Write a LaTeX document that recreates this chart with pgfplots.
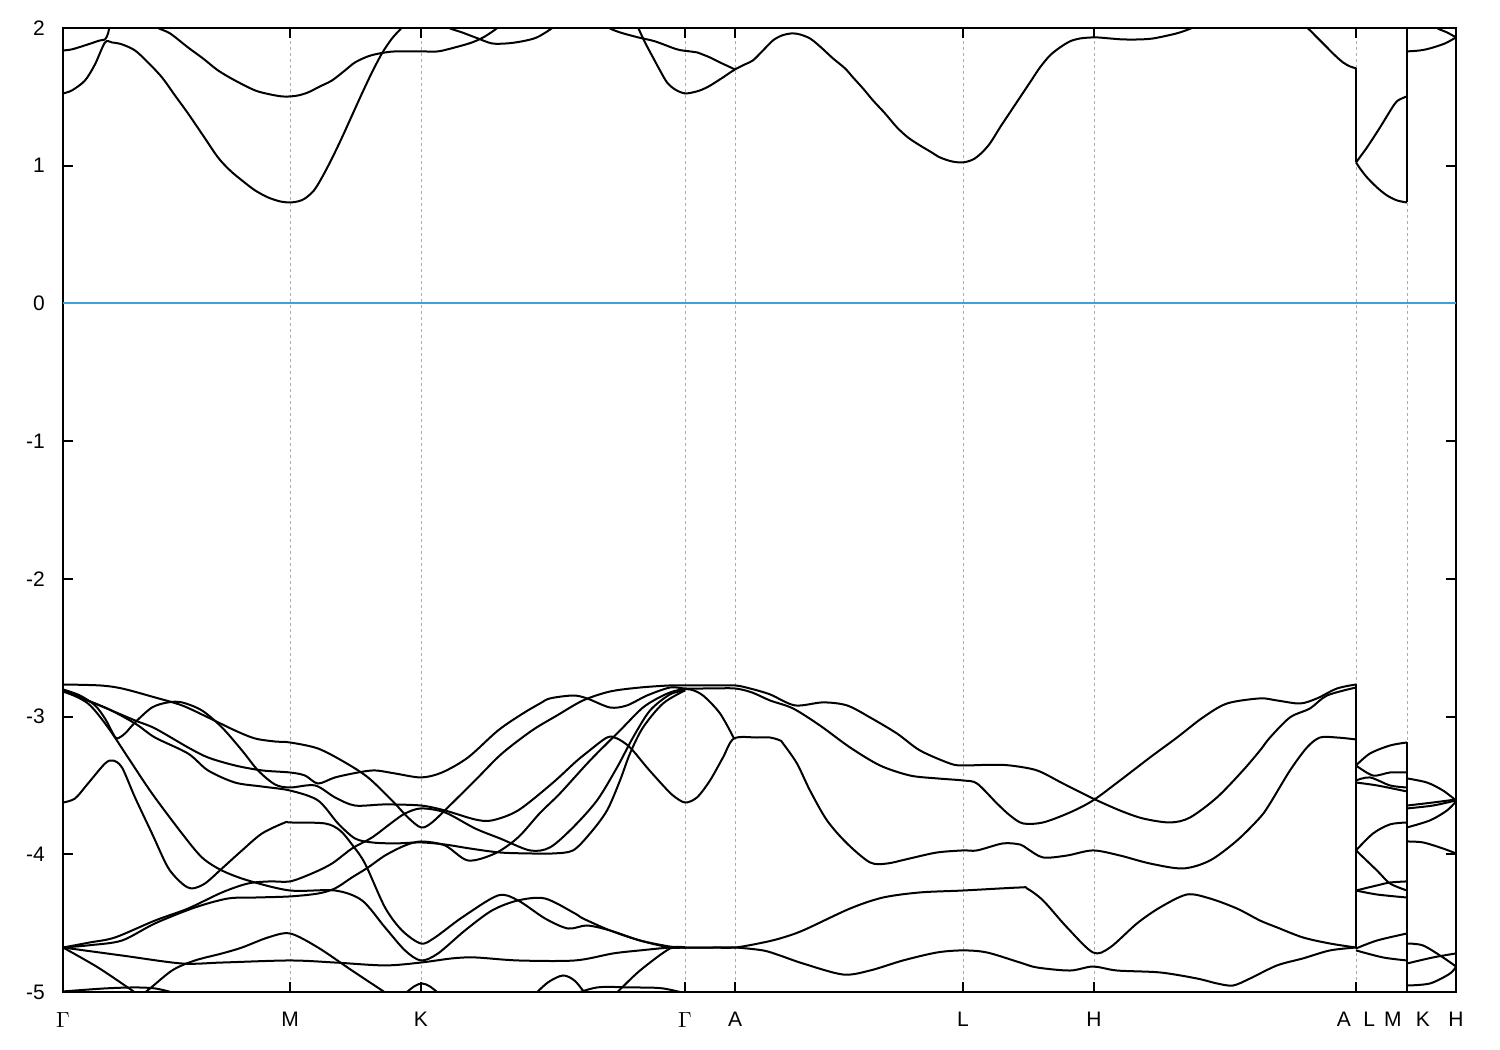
\documentclass[border=0pt]{standalone}
\usepackage{fontspec}
\setmainfont{Liberation Sans}
\usepackage{pgfplots}
\pgfplotsset{compat=1.18}
\definecolor{fermi}{RGB}{60,160,220}
\pgfplotsset{band/.style={black, line width=1pt, smooth, tension=0.5, mark=none},
             jump/.style={black, line width=1pt, mark=none}}
\begin{document}
\begin{tikzpicture}
\begin{axis}[
  scale only axis, width=696.5pt, height=482pt,
  xmin=63, xmax=1456, ymin=-5, ymax=2,
  axis line style={line width=1pt},
  xtick={63,290,421,685,735,963,1094,1356,1407,1456},
  xticklabels={$\Gamma$,M,K,$\Gamma$,A,L,H,{A\hspace{6.2pt}L},{M\hspace{7.2pt}K},H},
  ytick={-5,-4,-3,-2,-1,0,1,2},
  yticklabels={-5,-4,-3,-2,-1,0,1,2},
  tick align=inside, major tick length=5pt,
  every tick/.style={black, line width=1pt},
  tick label style={font=\fontsize{10.5}{12}\selectfont},
  xticklabel style={yshift=-6.5pt},
  yticklabel style={xshift=-5.6pt},
  xmajorgrids, ymajorgrids=false,
  major x grid style={gray!65, line width=0.5pt, dash pattern=on 1.5pt off 1.5pt},
  clip=true,
]
\addplot[draw=fermi, line width=1pt, mark=none] coordinates {(63,0) (1456,0)};
% ---------------- conduction bands ----------------
\addplot[band] coordinates {(63,1.525) (72,1.547) (85,1.619) (95,1.736) (105,1.895) (112,1.895) (122,1.881) (135,1.837) (148,1.750) (162,1.641) (175,1.510) (188,1.380) (203,1.220) (218,1.060) (230,0.966) (242,0.893) (255,0.821) (268,0.770) (280,0.741) (290,0.733) (298,0.741) (305,0.762) (314,0.821) (322,0.915) (332,1.053) (342,1.205) (352,1.365) (362,1.525) (372,1.678) (382,1.816) (392,1.924) (402,2.004) (408,2.06)};
\addplot[band] coordinates {(63,1.837) (72,1.845) (88,1.881) (100,1.910) (105,1.917) (108,1.96) (111,2.06)};
\addplot[band] coordinates {(150,2.06) (157,2.004) (170,1.961) (188,1.859) (203,1.779) (218,1.692) (235,1.619) (255,1.547) (270,1.518) (282,1.503) (290,1.503) (298,1.510) (308,1.532) (320,1.576) (332,1.619) (345,1.692) (355,1.750) (368,1.794) (380,1.816) (395,1.830) (422,1.830) (438,1.830) (455,1.859) (472,1.895) (485,1.939) (498,2.004) (504,2.05)};
\addplot[band] coordinates {(440,2.06) (448,2.004) (462,1.968) (478,1.924) (492,1.888) (507,1.888) (522,1.903) (537,1.932) (553,2.004) (558,2.05)};
\addplot[band] coordinates {(598,2.06) (608,2.004) (620,1.968) (638,1.932) (655,1.903) (677,1.845) (690,1.830) (697,1.823) (710,1.786) (720,1.750) (735,1.699)};
\addplot[band] coordinates {(634,2.06) (638,2.004) (645,1.895) (653,1.786) (660,1.692) (667,1.605) (675,1.554) (685,1.525) (697,1.540) (707,1.569) (720,1.627) (735,1.699) (745,1.736) (753,1.765) (763,1.837) (773,1.910) (782,1.946) (792,1.961) (800,1.953) (810,1.924) (820,1.866) (833,1.779) (845,1.707) (853,1.641) (863,1.561) (873,1.474) (885,1.380) (897,1.278) (908,1.205) (920,1.147) (930,1.104) (940,1.060) (952,1.031) (963,1.024) (973,1.045) (981,1.089) (990,1.162) (1000,1.278) (1010,1.387) (1020,1.496) (1030,1.605) (1040,1.714) (1050,1.801) (1060,1.859) (1070,1.903) (1080,1.924) (1095,1.932) (1110,1.924) (1123,1.917) (1140,1.917) (1153,1.924) (1168,1.946) (1180,1.968) (1193,2.004) (1202,2.05)};
\addplot[band] coordinates {(1298,2.06) (1307,2.004) (1317,1.932) (1327,1.859) (1335,1.801) (1343,1.750) (1350,1.721) (1356,1.707)};
\addplot[jump] coordinates {(1356,1.707) (1356,1.024)};
\addplot[band] coordinates {(1356,1.024) (1367,1.133) (1380,1.278) (1395,1.452) (1402,1.489) (1407,1.503)};
\addplot[band] coordinates {(1356,1.024) (1360,0.980) (1367,0.915) (1377,0.842) (1387,0.784) (1397,0.748) (1407,0.733)};
\addplot[jump] coordinates {(1407,2.06) (1407,0.733)};
\addplot[band] coordinates {(1407,1.830) (1420,1.837) (1430,1.852) (1445,1.888) (1456,1.932)};
\addplot[band] coordinates {(1428,2.06) (1437,2.00) (1447,1.968) (1456,1.932)};
% ---------------- valence bands ----------------
% band A
\addplot[band] coordinates {(63,-2.767) (100,-2.774) (122,-2.796) (155,-2.861) (182,-2.919) (208,-3.006) (235,-3.101) (255,-3.159) (275,-3.181) (290,-3.188) (318,-3.232) (345,-3.333) (368,-3.442) (392,-3.609) (408,-3.733) (421,-3.805) (432,-3.769) (452,-3.630) (478,-3.442) (502,-3.268) (532,-3.101) (557,-2.992) (583,-2.883) (610,-2.818) (640,-2.789) (670,-2.774) (685,-2.774) (710,-2.774) (735,-2.774) (750,-2.796) (770,-2.839) (795,-2.919) (823,-2.897) (847,-2.919) (870,-3.006) (897,-3.123) (920,-3.246) (950,-3.341) (963,-3.355) (990,-3.350) (1010,-3.355) (1037,-3.391) (1063,-3.486) (1093,-3.595) (1120,-3.682) (1143,-3.740) (1170,-3.769) (1190,-3.733) (1217,-3.587) (1243,-3.391) (1260,-3.246) (1270,-3.152) (1290,-3.006) (1310,-2.941) (1327,-2.847) (1356,-2.789)};
% band B
\addplot[band] coordinates {(63,-2.810) (95,-2.905) (135,-3.028) (155,-3.086) (188,-3.224) (208,-3.297) (235,-3.355) (262,-3.391) (290,-3.406) (305,-3.428) (318,-3.486) (335,-3.442) (358,-3.406) (375,-3.391) (395,-3.413) (421,-3.442) (442,-3.406) (468,-3.297) (498,-3.101) (523,-2.977) (540,-2.905) (550,-2.868) (573,-2.847) (587,-2.868) (610,-2.934) (627,-2.919) (647,-2.847) (670,-2.789) (685,-2.796) (710,-2.796) (735,-2.796) (752,-2.825) (770,-2.883) (793,-2.941) (820,-3.065) (850,-3.224) (880,-3.355) (910,-3.428) (937,-3.449) (963,-3.464) (977,-3.486) (997,-3.631) (1010,-3.718) (1023,-3.776) (1043,-3.769) (1070,-3.696) (1093,-3.609) (1120,-3.464) (1150,-3.297) (1177,-3.152) (1203,-3.006) (1227,-2.905) (1260,-2.868) (1277,-2.883) (1300,-2.905) (1317,-2.868) (1337,-2.796) (1356,-2.767)};
% band C
\addplot[band] coordinates {(63,-2.803) (80,-2.847) (95,-2.919) (105,-3.014) (113,-3.123) (117,-3.159) (125,-3.123) (135,-3.043) (152,-2.934) (168,-2.897) (182,-2.897) (202,-2.956) (222,-3.079) (242,-3.246) (258,-3.391) (275,-3.493) (290,-3.515) (315,-3.500) (335,-3.587) (355,-3.646) (385,-3.638) (421,-3.646) (445,-3.682) (475,-3.747) (492,-3.754) (518,-3.682) (552,-3.486) (575,-3.333) (587,-3.261) (607,-3.152) (617,-3.159) (630,-3.224) (647,-3.370) (663,-3.500) (673,-3.573) (685,-3.624) (697,-3.587) (710,-3.464) (723,-3.297) (734,-3.159) (757,-3.152) (770,-3.152) (780,-3.173) (783,-3.195) (797,-3.341) (810,-3.537) (827,-3.754) (847,-3.921) (870,-4.059) (887,-4.067) (910,-4.030) (937,-3.987) (963,-3.972) (977,-3.972) (1003,-3.921) (1020,-3.929) (1027,-3.958) (1043,-4.023) (1067,-4.009) (1093,-3.972) (1120,-4.009) (1150,-4.067) (1183,-4.103) (1210,-4.045) (1237,-3.900) (1260,-3.733) (1270,-3.631) (1290,-3.391) (1307,-3.224) (1320,-3.152) (1337,-3.152) (1356,-3.166)};
% band D
\addplot[band] coordinates {(63,-2.818) (105,-2.934) (135,-3.050) (155,-3.152) (188,-3.268) (208,-3.391) (235,-3.479) (262,-3.508) (290,-3.537) (318,-3.609) (338,-3.776) (355,-3.885) (372,-3.914) (395,-3.921) (421,-3.914) (445,-3.929) (470,-3.958) (500,-3.987) (530,-3.994) (553,-3.994) (573,-3.972) (590,-3.849) (607,-3.682) (620,-3.464) (630,-3.268) (643,-3.079) (663,-2.905) (685,-2.810)};
% band F
\addplot[band] coordinates {(63,-4.677) (90,-4.640) (115,-4.604) (155,-4.481) (188,-4.394) (222,-4.277) (248,-4.212) (270,-4.197) (290,-4.197) (312,-4.139) (332,-4.067) (352,-3.958) (372,-3.878) (392,-3.769) (405,-3.704) (421,-3.667) (445,-3.696) (475,-3.812) (500,-3.885) (530,-3.972) (550,-3.950) (573,-3.805) (597,-3.609) (617,-3.370) (633,-3.152) (650,-2.956) (670,-2.839) (685,-2.810)};
% band H
\addplot[band] coordinates {(63,-4.677) (90,-4.660) (122,-4.626) (155,-4.502) (195,-4.386) (228,-4.321) (255,-4.314) (290,-4.306) (318,-4.285) (335,-4.248) (352,-4.168) (368,-4.096) (385,-4.009) (405,-3.936) (421,-3.907) (445,-3.936) (468,-4.045) (495,-3.994) (518,-3.878) (540,-3.700) (560,-3.558) (590,-3.319) (620,-3.101) (643,-2.934) (663,-2.847) (677,-2.810) (690,-2.803) (703,-2.847) (720,-2.977) (734,-3.159)};
% band P / E
\addplot[band] coordinates {(63,-3.624) (75,-3.595) (88,-3.486) (105,-3.341) (113,-3.319) (122,-3.370) (135,-3.587) (152,-3.849) (168,-4.096) (182,-4.212) (192,-4.248) (205,-4.212) (222,-4.103) (242,-3.972) (262,-3.849) (285,-3.769) (290,-3.769) (325,-3.776) (340,-3.827) (352,-3.929) (365,-4.067) (385,-4.386) (402,-4.553) (421,-4.648) (435,-4.604) (462,-4.459) (498,-4.299) (518,-4.335) (545,-4.466) (568,-4.539) (587,-4.517) (610,-4.553) (640,-4.626) (670,-4.677) (685,-4.677) (710,-4.677) (735,-4.677) (763,-4.641) (780,-4.611) (803,-4.553) (850,-4.394) (883,-4.314) (920,-4.277) (963,-4.263) (1020,-4.241) (1027,-4.248) (1043,-4.335) (1067,-4.531) (1093,-4.713) (1110,-4.677) (1137,-4.502) (1160,-4.386) (1187,-4.292) (1210,-4.321) (1237,-4.394) (1260,-4.481) (1277,-4.531) (1303,-4.604) (1330,-4.648) (1356,-4.677)};
% band Q / G
\addplot[band] coordinates {(63,-2.810) (88,-2.905) (108,-3.079) (128,-3.297) (152,-3.558) (182,-3.849) (202,-4.023) (222,-4.118) (248,-4.190) (290,-4.263) (335,-4.263) (362,-4.335) (385,-4.531) (405,-4.698) (421,-4.771) (438,-4.720) (465,-4.553) (492,-4.408) (518,-4.335) (545,-4.321) (575,-4.430) (583,-4.466) (610,-4.553) (640,-4.626) (670,-4.670) (685,-4.677) (710,-4.677) (735,-4.677) (763,-4.698) (780,-4.735) (803,-4.793) (843,-4.873) (870,-4.844) (903,-4.771) (937,-4.713) (963,-4.698) (987,-4.713) (1020,-4.786) (1037,-4.822) (1070,-4.844) (1093,-4.815) (1117,-4.844) (1160,-4.858) (1197,-4.902) (1217,-4.938) (1233,-4.953) (1250,-4.902) (1277,-4.807) (1303,-4.756) (1330,-4.698) (1356,-4.677)};
% band J
\addplot[band] coordinates {(63,-4.677) (122,-4.735) (182,-4.793) (222,-4.786) (290,-4.771) (335,-4.786) (385,-4.807) (421,-4.786) (452,-4.756) (475,-4.749) (518,-4.771) (575,-4.771) (613,-4.720) (640,-4.698) (670,-4.677) (685,-4.677)};
% band I
\addplot[band] coordinates {(135,-5.025) (145,-5.003) (172,-4.844) (195,-4.771) (222,-4.720) (242,-4.677) (268,-4.604) (290,-4.575) (318,-4.677) (352,-4.844) (385,-5.003) (390,-5.03)};
% lower fragments
\addplot[band] coordinates {(63,-4.677) (98,-4.822) (135,-5.003) (140,-5.03)};
\addplot[band] coordinates {(63,-4.996) (105,-4.974) (135,-4.967) (155,-4.974) (172,-5.003) (180,-5.03)};
\addplot[band] coordinates {(402,-5.03) (414,-4.960) (422,-4.938) (430,-4.960) (442,-5.03)};
\addplot[band] coordinates {(533,-5.03) (548,-4.93) (563,-4.88) (575,-4.92) (587,-5.03)};
\addplot[band] coordinates {(568,-5.03) (597,-4.967) (630,-4.967) (663,-4.974) (696,-5.03)};
\addplot[band] coordinates {(612,-5.03) (617,-5.003) (640,-4.844) (670,-4.684) (685,-4.677)};
% jumps at A|L and M|K
\addplot[jump] coordinates {(1356,-2.767) (1356,-4.684)};
\addplot[jump] coordinates {(1407,-3.188) (1407,-5.03)};
% L - M
\addplot[band] coordinates {(1356,-3.355) (1370,-3.268) (1390,-3.210) (1407,-3.188)};
\addplot[band] coordinates {(1356,-3.355) (1373,-3.428) (1390,-3.406) (1407,-3.406)};
\addplot[band] coordinates {(1356,-3.464) (1370,-3.442) (1390,-3.500) (1407,-3.515)};
\addplot[band] coordinates {(1356,-3.479) (1377,-3.500) (1407,-3.544)};
\addplot[band] coordinates {(1356,-3.972) (1373,-3.849) (1390,-3.783) (1407,-3.769)};
\addplot[band] coordinates {(1356,-3.972) (1377,-4.118) (1390,-4.212) (1407,-4.263)};
\addplot[band] coordinates {(1356,-4.263) (1377,-4.226) (1390,-4.205) (1407,-4.197)};
\addplot[band] coordinates {(1356,-4.263) (1377,-4.292) (1407,-4.314)};
\addplot[band] coordinates {(1356,-4.684) (1377,-4.626) (1407,-4.575)};
\addplot[band] coordinates {(1356,-4.698) (1383,-4.749) (1407,-4.771)};
% K - H
\addplot[band] coordinates {(1407,-3.449) (1427,-3.479) (1443,-3.537) (1456,-3.609)};
\addplot[band] coordinates {(1407,-3.646) (1433,-3.624) (1456,-3.602)};
\addplot[band] coordinates {(1407,-3.667) (1433,-3.646) (1456,-3.609)};
\addplot[band] coordinates {(1407,-3.805) (1430,-3.754) (1447,-3.682) (1456,-3.616)};
\addplot[band] coordinates {(1407,-3.907) (1423,-3.914) (1443,-3.958) (1456,-3.994)};
\addplot[band] coordinates {(1407,-4.648) (1423,-4.662) (1443,-4.749) (1456,-4.815)};
\addplot[band] coordinates {(1407,-4.793) (1433,-4.749) (1456,-4.720)};
\addplot[band] coordinates {(1407,-4.953) (1430,-4.938) (1450,-4.866) (1456,-4.815)};
\end{axis}
\pgfresetboundingbox
\useasboundingbox ([shift={(-31.5pt,-29pt)}]current axis.south west) rectangle ([shift={(22pt,14pt)}]current axis.north east);
\end{tikzpicture}
\end{document}
